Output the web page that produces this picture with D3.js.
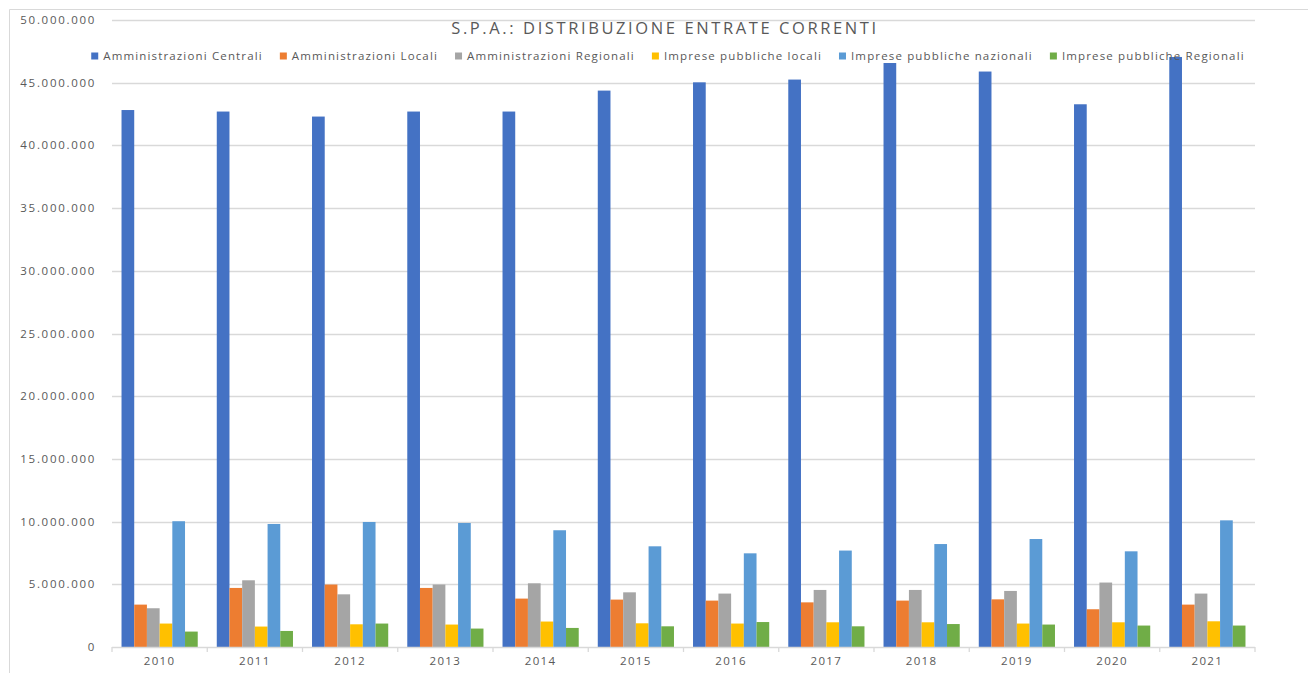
<!DOCTYPE html>
<html>
<head>
<meta charset="utf-8">
<script src="https://cdn.jsdelivr.net/npm/d3@7"></script>
<style>
  body { margin: 0; background: #fff; }
  text { font-family: "Open Sans", sans-serif; fill: #595959; }
</style>
</head>
<body>
<div id="container"></div>
<script>
// data
const years = ["2010","2011","2012","2013","2014","2015","2016","2017","2018","2019","2020","2021"];
const seriesNames = ["Amministrazioni Centrali","Amministrazioni Locali","Amministrazioni Regionali",
  "Imprese pubbliche locali","Imprese pubbliche nazionali","Imprese pubbliche Regionali"];
const seriesColors = ["#4472C4","#ED7D31","#A5A5A5","#FFC000","#5B9BD5","#70AD47"];

const ammCentrali  = [42820000,42700000,42300000,42700000,42700000,44370000,45030000,45250000,46570000,45890000,43280000,47050000];
const ammLocali    = [3380000,4710000,4980000,4710000,3860000,3780000,3700000,3560000,3700000,3800000,3010000,3380000];
const ammRegionali = [3090000,5320000,4200000,4980000,5080000,4360000,4260000,4550000,4550000,4470000,5140000,4260000];
const impLocali    = [1870000,1630000,1810000,1790000,2030000,1890000,1870000,1970000,1970000,1870000,1970000,2050000];
const impNazionali = [10030000,9810000,9970000,9890000,9310000,8030000,7470000,7690000,8210000,8610000,7630000,10100000];
const impRegionali = [1230000,1280000,1870000,1470000,1520000,1650000,1990000,1650000,1830000,1790000,1710000,1710000];
const yTicks = [0,5000000,10000000,15000000,20000000,25000000,30000000,35000000,40000000,45000000,50000000];
const title = "S.P.A.: DISTRIBUZIONE ENTRATE CORRENTI";

const allSeries = [ammCentrali, ammLocali, ammRegionali, impLocali, impNazionali, impRegionali];

const width = 1308, height = 673;
const plot = { left: 112, right: 1255, top: 20, bottom: 647 };

const svg = d3.select("#container").append("svg")
  .attr("width", width).attr("height", height);

// outer frame (cropped at right/bottom)
svg.append("path")
  .attr("d", `M9.5,${height} V9.5 H${width}`)
  .attr("fill", "none").attr("stroke", "#D9D9D9");

const yScale = d3.scaleLinear().domain([0, 50000000]).range([plot.bottom, plot.top]);
const x0 = d3.scaleBand().domain(years).range([plot.left, plot.right]).paddingInner(0).paddingOuter(0);
const x1 = d3.scaleBand().domain(d3.range(seriesNames.length)).range([0, x0.bandwidth()]).paddingInner(0).paddingOuter(0.75);

const fmt = d => d3.format(",")(d).replace(/,/g, ".");

// gridlines
svg.append("g").selectAll("line")
  .data(yTicks.filter(d => d > 0))
  .join("line")
  .attr("x1", plot.left).attr("x2", plot.right)
  .attr("y1", d => Math.round(yScale(d)) + 0.5).attr("y2", d => Math.round(yScale(d)) + 0.5)
  .attr("stroke", "#D9D9D9").attr("stroke-width", 1.3);

// y labels
svg.append("g").selectAll("text")
  .data(yTicks)
  .join("text")
  .attr("x", 96).attr("y", d => yScale(d) + 4)
  .attr("text-anchor", "end")
  .style("font-size", "11.5px").style("letter-spacing", "1.7px")
  .text(fmt);

// bars
const groups = svg.append("g").selectAll("g")
  .data(years)
  .join("g")
  .attr("transform", d => `translate(${x0(d)},0)`);

groups.selectAll("rect")
  .data((d, i) => allSeries.map((s, k) => ({ k, v: s[i] })))
  .join("rect")
  .attr("x", d => x1(d.k))
  .attr("width", x1.bandwidth())
  .attr("y", d => yScale(d.v))
  .attr("height", d => plot.bottom - yScale(d.v))
  .attr("fill", d => seriesColors[d.k]);

// x axis
const xAxis = svg.append("g");
xAxis.append("line")
  .attr("x1", plot.left).attr("x2", plot.right)
  .attr("y1", plot.bottom + 0.5).attr("y2", plot.bottom + 0.5)
  .attr("stroke", "#D9D9D9").attr("stroke-width", 1.3);
xAxis.selectAll("line.tick")
  .data(years.map(d => x0(d)).concat([plot.right]))
  .join("line")
  .attr("class", "tick")
  .attr("x1", d => d).attr("x2", d => d)
  .attr("y1", plot.bottom).attr("y2", plot.bottom + 5)
  .attr("stroke", "#D9D9D9").attr("stroke-width", 1.3);
xAxis.selectAll("text")
  .data(years)
  .join("text")
  .attr("x", d => x0(d) + x0.bandwidth() / 2)
  .attr("y", 665)
  .attr("text-anchor", "middle")
  .style("font-size", "11.5px").style("letter-spacing", "1.3px")
  .text(d => d);

// title
svg.append("text")
  .attr("x", 665).attr("y", 34)
  .attr("text-anchor", "middle")
  .style("font-size", "16.5px").style("letter-spacing", "2.6px")
  .text(title);

// legend, laid out by measured text widths
const legend = svg.append("g").attr("transform", "translate(0,56)");
const items = legend.selectAll("g")
  .data(seriesNames)
  .join("g");
items.append("rect")
  .attr("x", 0).attr("y", -3.5).attr("width", 7).attr("height", 7)
  .attr("fill", (d, i) => seriesColors[i]);
items.append("text")
  .attr("x", 12).attr("y", 4)
  .style("font-size", "11.5px").style("letter-spacing", "1.15px")
  .text(d => d);
let pos = 0;
const offsets = [];
items.each(function () {
  offsets.push(pos);
  const w = d3.select(this).select("text").node().getComputedTextLength();
  pos += 12 + w + 17;
});
const total = pos - 17;
const start = 668 - total / 2;
items.attr("transform", (d, i) => `translate(${start + offsets[i]},0)`);
</script>
</body>
</html>
